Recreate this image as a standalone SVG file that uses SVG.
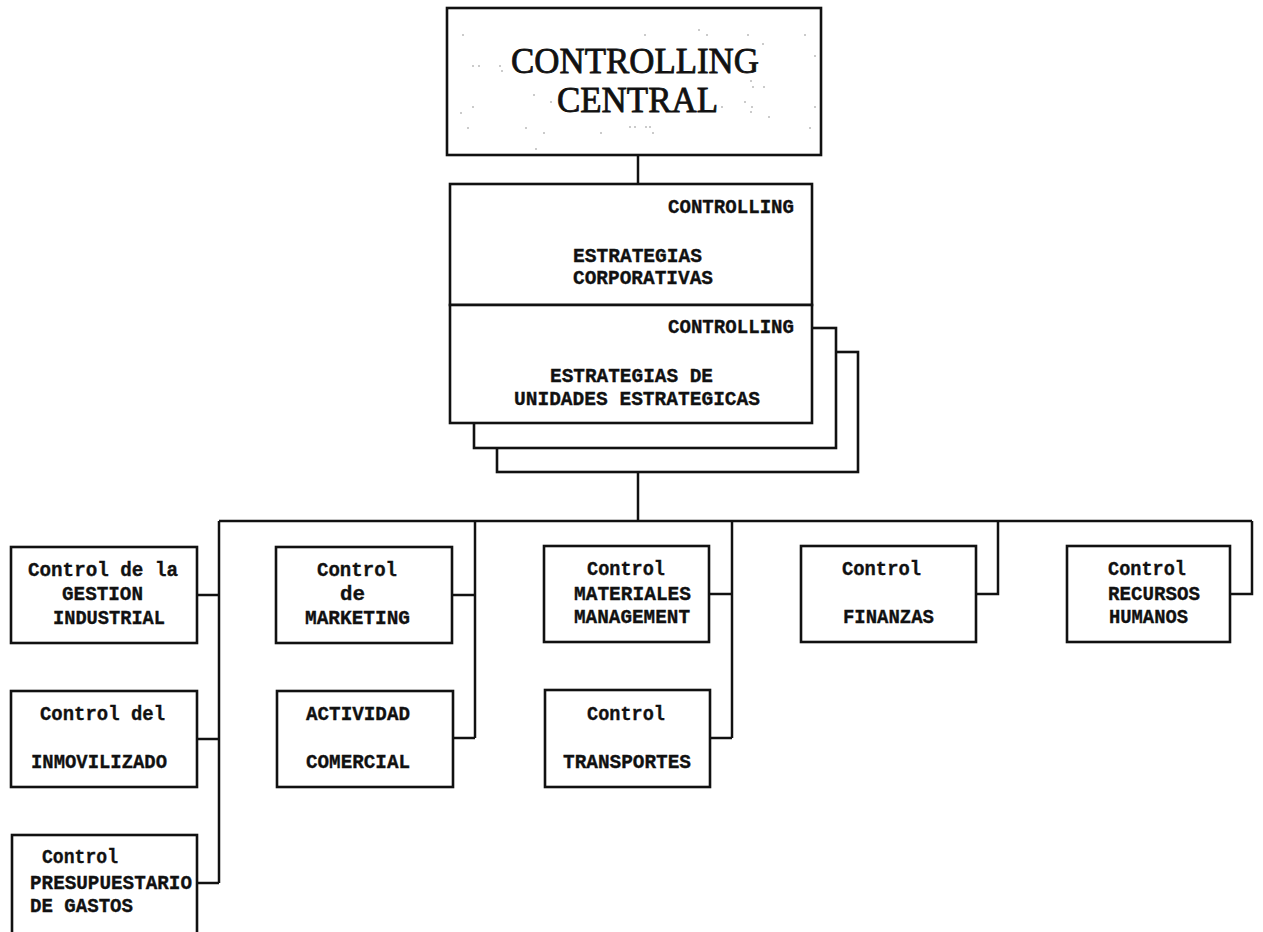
<svg xmlns="http://www.w3.org/2000/svg" width="1263" height="932" viewBox="0 0 1263 932">
  <style>
    .box { fill: #ffffff; stroke: #111111; stroke-width: 2.6; }
    .wire { fill: none; stroke: #111111; stroke-width: 2.5; stroke-linejoin: miter; }
    .lbl { font-family: "Liberation Mono", "DejaVu Sans Mono", monospace; font-weight: bold; font-size: 21px; fill: #111111; stroke: #111111; stroke-width: 0.35; }
    .title { font-family: "Liberation Serif", "Times New Roman", serif; font-size: 35px; fill: #111111; stroke: #111111; stroke-width: 0.8; }
    .speck { fill: #8a8a8a; }
  </style>

  <rect width="1263" height="932" fill="#ffffff"/>

  <!-- connectors -->
  <g id="connectors" class="wire">
    <path d="M638 155 V184"/>
    <path d="M638 472 V521"/>
    <path d="M219 521 H1252"/>
    <!-- column 1 -->
    <path d="M219 521 V883"/>
    <path d="M197 595 H219"/>
    <path d="M197 739 H219"/>
    <path d="M197 883 H219"/>
    <!-- column 2 -->
    <path d="M475 521 V738"/>
    <path d="M452 595 H475"/>
    <path d="M453 738 H475"/>
    <!-- column 3 -->
    <path d="M732 521 V738"/>
    <path d="M709 594 H732"/>
    <path d="M710 738 H732"/>
    <!-- column 4 -->
    <path d="M998 521 V594 H976"/>
    <!-- column 5 -->
    <path d="M1252 521 V594 H1230"/>
  </g>

  <!-- top node -->
  <g id="controlling-central">
    <rect class="box" x="447" y="8" width="374" height="147"/>
    <g class="speck">
      <circle cx="463" cy="35" r="0.8"/><circle cx="645" cy="35" r="0.8"/><circle cx="699" cy="30" r="0.8"/>
      <circle cx="707" cy="35" r="0.8"/><circle cx="748" cy="35" r="0.8"/><circle cx="805" cy="35" r="0.8"/>
      <circle cx="763" cy="44" r="0.8"/><circle cx="815" cy="56" r="0.8"/><circle cx="473" cy="66" r="0.8"/>
      <circle cx="479" cy="66" r="0.8"/><circle cx="500" cy="66" r="0.8"/><circle cx="502" cy="71" r="0.8"/>
      <circle cx="751" cy="81" r="0.8"/><circle cx="753" cy="87" r="0.8"/><circle cx="764" cy="87" r="0.8"/>
      <circle cx="534" cy="95" r="0.8"/><circle cx="551" cy="102" r="0.8"/><circle cx="473" cy="107" r="0.8"/>
      <circle cx="461" cy="113" r="0.8"/><circle cx="722" cy="107" r="0.8"/><circle cx="745" cy="102" r="0.8"/>
      <circle cx="752" cy="107" r="0.8"/><circle cx="751" cy="112" r="0.8"/><circle cx="815" cy="107" r="0.8"/>
      <circle cx="769" cy="117" r="0.8"/><circle cx="468" cy="128" r="0.8"/><circle cx="526" cy="128" r="0.8"/>
      <circle cx="544" cy="133" r="0.8"/><circle cx="601" cy="133" r="0.8"/><circle cx="630" cy="127" r="0.8"/>
      <circle cx="635" cy="127" r="0.8"/><circle cx="646" cy="127" r="0.8"/><circle cx="650" cy="127" r="0.8"/>
      <circle cx="653" cy="133" r="0.8"/><circle cx="810" cy="128" r="0.8"/><circle cx="536" cy="149" r="0.8"/>
    </g>
    <text class="title" x="511" y="73" textLength="248" lengthAdjust="spacingAndGlyphs">CONTROLLING</text>
    <text class="title" x="557" y="112" textLength="161" lengthAdjust="spacingAndGlyphs">CENTRAL</text>
  </g>

  <!-- stacked strategy nodes -->
  <g id="estrategias-unidades-stack">
    <rect class="box" x="497" y="352" width="361" height="120"/>
    <rect class="box" x="474" y="328" width="362" height="120"/>
  </g>

  <g id="estrategias-corporativas">
    <rect class="box" x="450" y="184" width="362" height="121"/>
    <text class="lbl" x="668" y="213" textLength="126" lengthAdjust="spacingAndGlyphs">CONTROLLING</text>
    <text class="lbl" x="573" y="262" textLength="129" lengthAdjust="spacingAndGlyphs">ESTRATEGIAS</text>
    <text class="lbl" x="573" y="284" textLength="140" lengthAdjust="spacingAndGlyphs">CORPORATIVAS</text>
  </g>

  <g id="estrategias-unidades">
    <rect class="box" x="450" y="305" width="362" height="118"/>
    <text class="lbl" x="668" y="333" textLength="126" lengthAdjust="spacingAndGlyphs">CONTROLLING</text>
    <text class="lbl" x="550" y="382" textLength="163" lengthAdjust="spacingAndGlyphs">ESTRATEGIAS DE</text>
    <text class="lbl" x="514" y="405" textLength="246" lengthAdjust="spacingAndGlyphs">UNIDADES ESTRATEGICAS</text>
  </g>

  <!-- column 1 -->
  <g id="gestion-industrial">
    <rect class="box" x="11" y="547" width="186" height="96"/>
    <text class="lbl" x="28" y="576" textLength="150" lengthAdjust="spacingAndGlyphs">Control de la</text>
    <text class="lbl" x="62" y="600" textLength="81" lengthAdjust="spacingAndGlyphs">GESTION</text>
    <text class="lbl" x="53" y="624" textLength="112" lengthAdjust="spacingAndGlyphs">INDUSTRIAL</text>
  </g>

  <g id="inmovilizado">
    <rect class="box" x="11" y="691" width="186" height="96"/>
    <text class="lbl" x="40" y="720" textLength="125" lengthAdjust="spacingAndGlyphs">Control del</text>
    <text class="lbl" x="31" y="768" textLength="136" lengthAdjust="spacingAndGlyphs">INMOVILIZADO</text>
  </g>

  <g id="presupuestario">
    <rect class="box" x="12" y="835" width="185" height="100"/>
    <text class="lbl" x="42" y="863" textLength="76" lengthAdjust="spacingAndGlyphs">Control</text>
    <text class="lbl" x="30" y="889" textLength="162" lengthAdjust="spacingAndGlyphs">PRESUPUESTARIO</text>
    <text class="lbl" x="30" y="912" textLength="103" lengthAdjust="spacingAndGlyphs">DE GASTOS</text>
  </g>

  <!-- column 2 -->
  <g id="marketing">
    <rect class="box" x="276" y="547" width="176" height="96"/>
    <text class="lbl" x="317" y="576" textLength="80" lengthAdjust="spacingAndGlyphs">Control</text>
    <text class="lbl" x="340" y="600" textLength="25" lengthAdjust="spacingAndGlyphs">de</text>
    <text class="lbl" x="305" y="624" textLength="105" lengthAdjust="spacingAndGlyphs">MARKETING</text>
  </g>

  <g id="actividad-comercial">
    <rect class="box" x="277" y="691" width="176" height="96"/>
    <text class="lbl" x="306" y="720" textLength="104" lengthAdjust="spacingAndGlyphs">ACTIVIDAD</text>
    <text class="lbl" x="306" y="768" textLength="104" lengthAdjust="spacingAndGlyphs">COMERCIAL</text>
  </g>

  <!-- column 3 -->
  <g id="materiales-management">
    <rect class="box" x="544" y="546" width="165" height="96"/>
    <text class="lbl" x="587" y="575" textLength="78" lengthAdjust="spacingAndGlyphs">Control</text>
    <text class="lbl" x="574" y="600" textLength="117" lengthAdjust="spacingAndGlyphs">MATERIALES</text>
    <text class="lbl" x="574" y="623" textLength="116" lengthAdjust="spacingAndGlyphs">MANAGEMENT</text>
  </g>

  <g id="transportes">
    <rect class="box" x="545" y="690" width="165" height="97"/>
    <text class="lbl" x="587" y="720" textLength="78" lengthAdjust="spacingAndGlyphs">Control</text>
    <text class="lbl" x="563" y="768" textLength="128" lengthAdjust="spacingAndGlyphs">TRANSPORTES</text>
  </g>

  <!-- column 4 -->
  <g id="finanzas">
    <rect class="box" x="801" y="546" width="175" height="96"/>
    <text class="lbl" x="842" y="575" textLength="79" lengthAdjust="spacingAndGlyphs">Control</text>
    <text class="lbl" x="843" y="623" textLength="91" lengthAdjust="spacingAndGlyphs">FINANZAS</text>
  </g>

  <!-- column 5 -->
  <g id="recursos-humanos">
    <rect class="box" x="1067" y="546" width="163" height="96"/>
    <text class="lbl" x="1108" y="575" textLength="78" lengthAdjust="spacingAndGlyphs">Control</text>
    <text class="lbl" x="1108" y="600" textLength="92" lengthAdjust="spacingAndGlyphs">RECURSOS</text>
    <text class="lbl" x="1109" y="623" textLength="79" lengthAdjust="spacingAndGlyphs">HUMANOS</text>
  </g>
</svg>
